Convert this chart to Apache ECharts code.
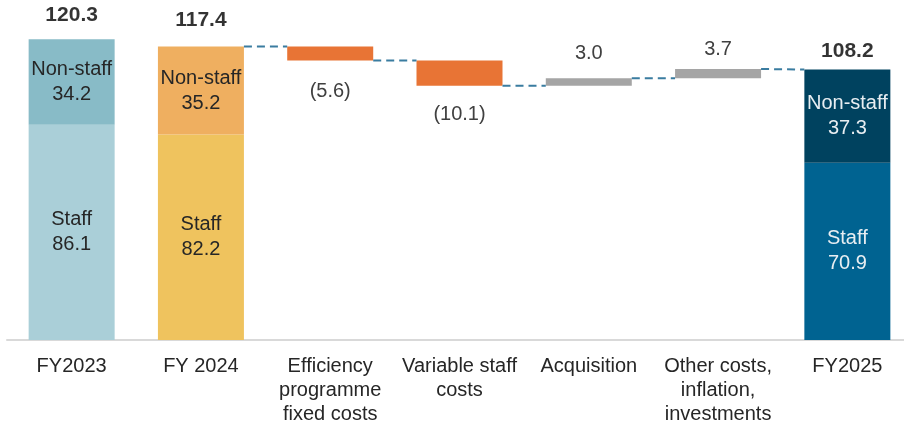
<!DOCTYPE html>
<html>
<head>
<meta charset="utf-8">
<script src="https://cdn.jsdelivr.net/npm/echarts@6/dist/echarts.min.js"></script>
<style>
html,body{margin:0;padding:0;background:#fff;}
#chart{width:904px;height:427px;}
</style>
</head>
<body>
<div id="chart"></div>
<script>
var categories = ['FY2023', 'FY 2024', 'Efficiency\nprogramme\nfixed costs', 'Variable staff\ncosts', 'Acquisition', 'Other costs,\ninflation,\ninvestments', 'FY2025'];
var staff = [86.1, 82.2, null, null, null, null, 70.9];
var nonStaff = [34.2, 35.2, null, null, null, null, 37.3];
var totals = [120.3, 117.4, null, null, null, null, 108.2];
var changes = [null, null, -5.6, -10.1, 3.0, 3.7, null];

var staffColors = ['#aacfd8', '#efc35e', null, null, null, null, '#006391'];
var nonStaffColors = ['#88bbc7', '#efaf60', null, null, null, null, '#00425f'];
var textColors = ['#262626', '#262626', null, null, null, null, '#e8eef2'];
var changeLabelDist = [0, 0, 21, 19, 15, 10, 0];
var totalLabelDist = [14, 16, 0, 0, 0, 0, 8];

// running waterfall levels
var base = [], changeVals = [], startLevel = [], endLevel = [];
var level = 0;
for (var i = 0; i < categories.length; i++) {
  if (totals[i] != null) {
    base.push(0); changeVals.push('-');
    startLevel.push(totals[i]); endLevel.push(totals[i]);
    level = totals[i];
  } else {
    var c = changes[i];
    startLevel.push(level);
    base.push(Math.min(level, level + c));
    changeVals.push({
      value: Math.abs(c),
      itemStyle: { color: c < 0 ? '#e87435' : '#a5a5a5' },
      label: {
        position: c < 0 ? 'bottom' : 'top',
        distance: changeLabelDist[i],
        formatter: c < 0 ? '(' + Math.abs(c).toFixed(1) + ')' : c.toFixed(1)
      }
    });
    level = level + c;
    endLevel.push(level);
  }
}
var connectors = [];
for (var j = 1; j < categories.length - 1; j++) {
  connectors.push([j, endLevel[j], startLevel[j + 1]]);
}

function stackData(vals, colors, name) {
  return vals.map(function (v, k) {
    if (v == null) return '-';
    return {
      value: v,
      itemStyle: { color: colors[k] },
      label: { color: textColors[k], formatter: name + '\n' + v.toFixed(1) }
    };
  });
}

var FONT = '"Liberation Sans", Arial, sans-serif';
var chart = echarts.init(document.getElementById('chart'), null, { renderer: 'canvas' });
chart.setOption({
  animation: false,
  grid: { left: 7, top: 15, bottom: 87, width: 905, containLabel: false, outerBoundsMode: 'none' },
  xAxis: {
    type: 'category',
    data: categories,
    axisLine: { show: true, lineStyle: { color: '#d9d9d9', width: 2 } },
    axisTick: { show: false },
    axisLabel: { color: '#262626', fontSize: 20, lineHeight: 24, fontFamily: FONT, margin: 14, interval: 0 }
  },
  yAxis: { type: 'value', min: 0, max: 130, show: false, splitLine: { show: false } },
  series: [
    { type: 'bar', stack: 'w', barWidth: 86, data: base, itemStyle: { color: 'transparent' }, silent: true },
    {
      type: 'bar', stack: 'w', barWidth: 86, data: stackData(staff, staffColors, 'Staff'),
      label: { show: true, position: 'inside', fontSize: 20, lineHeight: 25, fontFamily: FONT }
    },
    {
      type: 'bar', stack: 'w', barWidth: 86, data: stackData(nonStaff, nonStaffColors, 'Non-staff'),
      label: { show: true, position: 'inside', fontSize: 20, lineHeight: 25, fontFamily: FONT }
    },
    {
      type: 'bar', stack: 'w', barWidth: 86, data: changeVals,
      label: { show: true, color: '#404040', fontSize: 20, fontFamily: FONT }
    },
    {
      type: 'scatter', symbolSize: 0,
      data: totals.map(function (t, k) {
        return t == null ? '-' : { value: t, label: { distance: totalLabelDist[k] } };
      }),
      label: { show: true, position: 'top', color: '#000', fontWeight: 'bold', fontSize: 21, fontFamily: FONT,
        formatter: function (p) { return p.value.toFixed(1); } }
    },
    {
      type: 'custom',
      data: connectors,
      encode: { x: 0, y: 1 },
      z: 5,
      renderItem: function (params, api) {
        var a = api.coord([api.value(0), api.value(1)]);
        var b = api.coord([api.value(0) + 1, api.value(2)]);
        return {
          type: 'line',
          shape: { x1: a[0] + 43, y1: a[1], x2: b[0] - 43, y2: b[1] },
          style: { stroke: '#3a7ca0', lineWidth: 2, lineDash: [8, 5] }
        };
      }
    }
  ]
});
</script>
</body>
</html>
